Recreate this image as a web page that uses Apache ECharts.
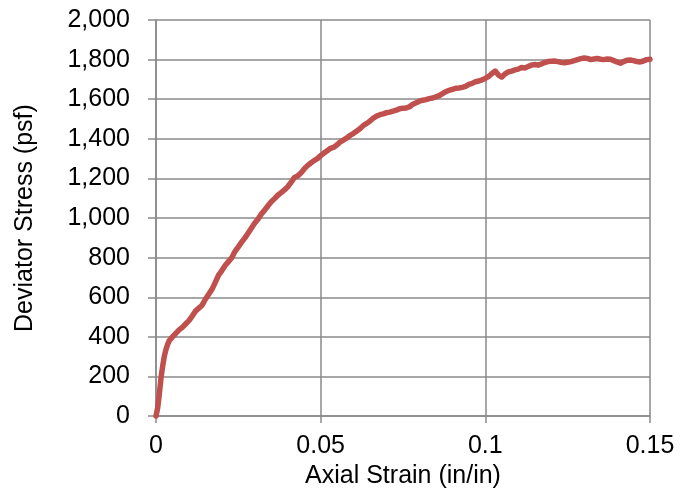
<!DOCTYPE html>
<html>
<head>
<meta charset="utf-8">
<script src="https://cdn.jsdelivr.net/npm/echarts@6/dist/echarts.min.js"></script>
<style>html,body{margin:0;padding:0;background:#fff}#c{width:687px;height:494px}</style>
</head>
<body>
<div id="c"></div>
<script>
var strain = [0,0.0005,0.001,0.0015,0.002,0.0025,0.003,0.0035,0.004,0.005,0.006,0.007,0.008,0.009,0.010,0.011,0.012,0.013,0.014,0.015,0.016,0.017,0.018,0.019,0.020,0.021,0.022,0.023,0.024,0.025,0.026,0.027,0.028,0.029,0.030,0.031,0.032,0.033,0.034,0.035,0.036,0.037,0.038,0.039,0.040,0.041,0.042,0.043,0.044,0.045,0.046,0.047,0.048,0.049,0.050,0.051,0.052,0.053,0.054,0.055,0.056,0.057,0.058,0.059,0.060,0.061,0.062,0.063,0.064,0.065,0.066,0.067,0.068,0.069,0.070,0.071,0.072,0.073,0.074,0.075,0.076,0.077,0.078,0.079,0.080,0.081,0.082,0.083,0.084,0.085,0.086,0.087,0.088,0.089,0.090,0.091,0.092,0.093,0.094,0.095,0.096,0.097,0.098,0.099,0.100,0.101,0.102,0.103,0.104,0.105,0.106,0.107,0.108,0.109,0.110,0.111,0.112,0.113,0.114,0.115,0.116,0.117,0.118,0.119,0.120,0.121,0.122,0.123,0.124,0.125,0.126,0.127,0.128,0.129,0.130,0.131,0.132,0.133,0.134,0.135,0.136,0.137,0.138,0.139,0.140,0.141,0.142,0.143,0.144,0.145,0.146,0.147,0.148,0.149,0.150];
var stress = [0,40,110,190,250,300,335,360,380,400,418,435,448,465,482,505,530,545,560,590,615,640,675,712,735,760,780,800,832,855,878,900,925,950,975,995,1020,1040,1062,1082,1098,1115,1128,1142,1158,1180,1205,1212,1228,1248,1265,1278,1290,1300,1315,1328,1340,1352,1358,1370,1385,1395,1405,1418,1428,1440,1452,1468,1478,1490,1505,1515,1522,1526,1532,1535,1540,1545,1552,1555,1556,1562,1575,1582,1590,1595,1598,1603,1606,1612,1618,1628,1638,1645,1650,1655,1657,1660,1665,1675,1680,1688,1692,1698,1705,1715,1730,1742,1722,1712,1728,1738,1742,1748,1752,1760,1758,1765,1772,1775,1772,1778,1785,1790,1792,1793,1790,1786,1784,1787,1790,1795,1800,1805,1808,1806,1800,1803,1806,1802,1800,1803,1802,1795,1788,1782,1790,1797,1798,1795,1790,1788,1793,1800,1802];
var xTitle = 'Axial Strain (in/in)';
var yTitle = 'Deviator Stress (psf)';

var pts = strain.map(function(s, i){ return [s, stress[i]]; });
var font = 'Liberation Sans, Arial, sans-serif';
var gridColor = '#8a8a8a';
var chart = echarts.init(document.getElementById('c'), null, {renderer: 'canvas'});
chart.setOption({
  animation: false,
  grid: {left: 156, right: 37, top: 20, bottom: 74, containLabel: false},
  xAxis: {
    type: 'value', min: 0, max: 0.15, interval: 0.05,
    name: xTitle, nameLocation: 'middle', nameGap: 42,
    nameTextStyle: {fontFamily: font, fontSize: 25, color: '#000'},
    axisLine: {show: true, lineStyle: {color: gridColor, width: 1.5}},
    axisTick: {show: true, length: 7, lineStyle: {color: gridColor, width: 1.5}},
    axisLabel: {fontFamily: font, fontSize: 25, color: '#000', margin: 18,
      formatter: function(v){ return String(Math.round(v*100)/100); }},
    splitLine: {show: true, lineStyle: {color: gridColor, width: 1.5}}
  },
  yAxis: {
    type: 'value', min: 0, max: 2000, interval: 200,
    name: yTitle, nameLocation: 'middle', nameGap: 118, nameRotate: 90,
    nameTextStyle: {fontFamily: font, fontSize: 25, color: '#000'},
    axisLine: {show: true, lineStyle: {color: gridColor, width: 1.5}},
    axisTick: {show: true, length: 8, lineStyle: {color: gridColor, width: 1.5}},
    axisLabel: {fontFamily: font, fontSize: 25, color: '#000', margin: 26,
      formatter: function(v){ return v.toLocaleString('en-US'); }},
    splitLine: {show: true, lineStyle: {color: gridColor, width: 1.5}}
  },
  series: [{
    type: 'line', data: pts, showSymbol: false, symbol: 'none',
    lineStyle: {color: '#C0504D', width: 5.5, join: 'round', cap: 'round'},
    z: 5
  }]
});
</script>
</body>
</html>
